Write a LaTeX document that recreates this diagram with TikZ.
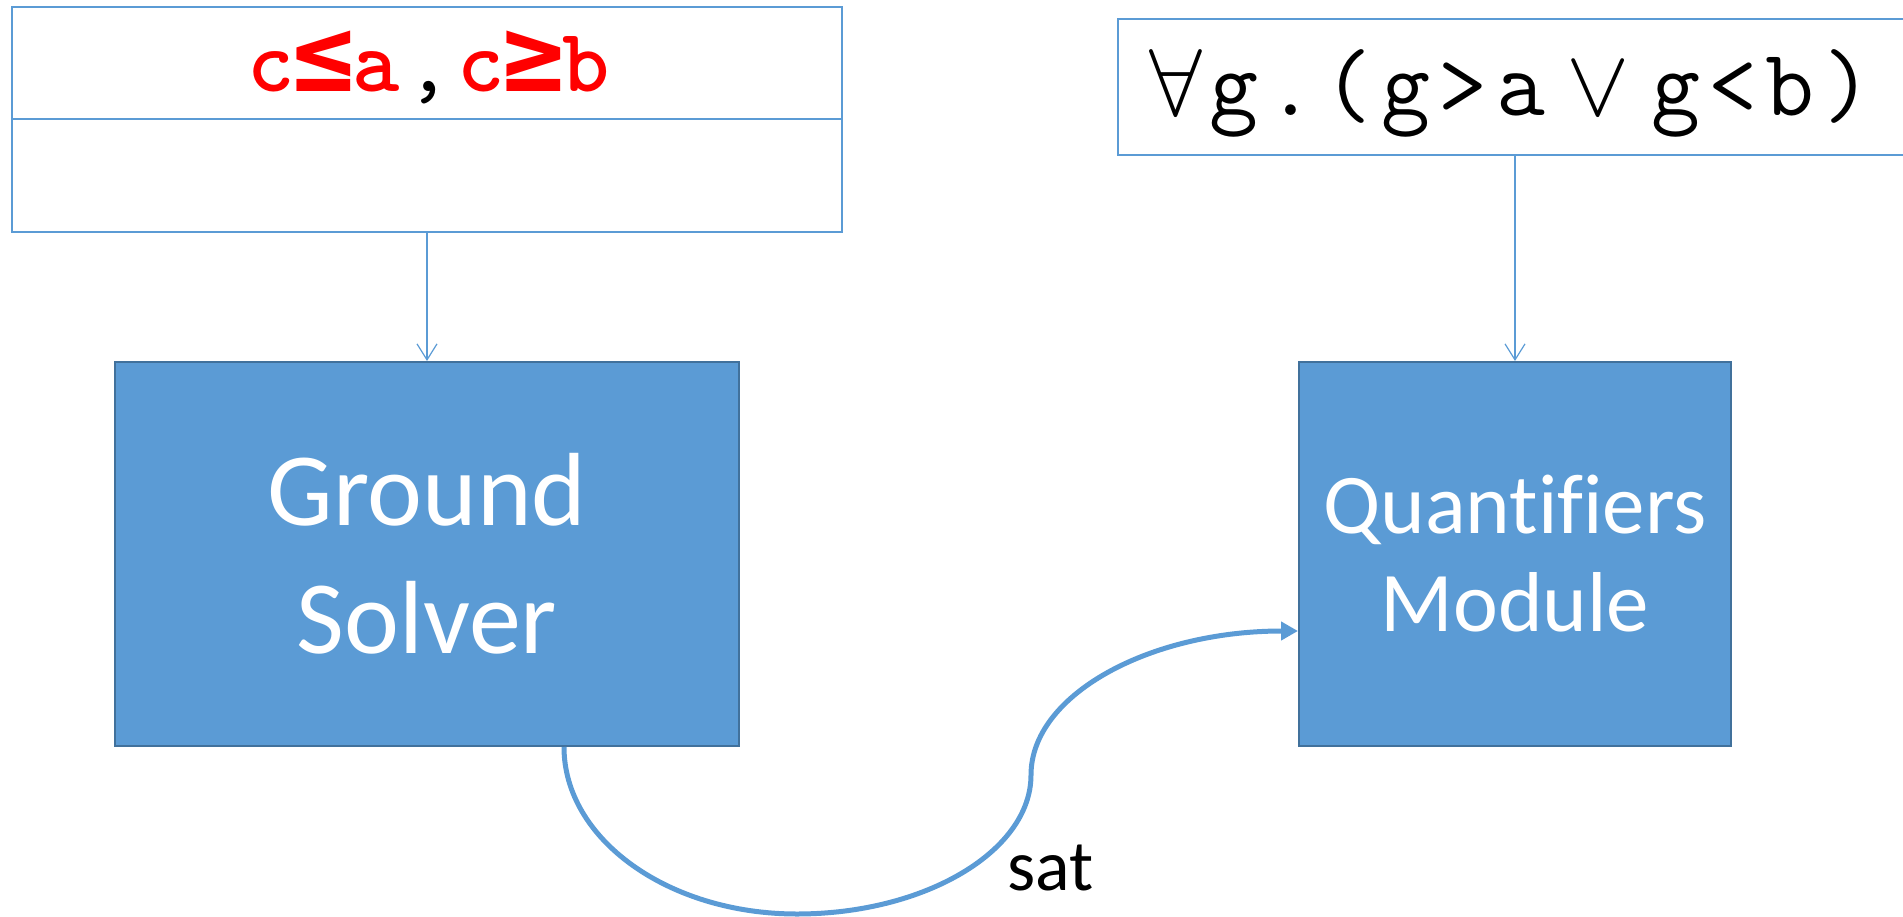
\RequirePackage{fix-cm}
\documentclass[tikz,border=0pt]{standalone}
\usepackage{fontspec}
\setmainfont{Carlito}[Ligatures=CommonOff]
\newfontfamily\relfont{DejaVu Sans Mono}
\usetikzlibrary{arrows.meta,calc}
\definecolor{boxfill}{HTML}{5B9BD5}
\definecolor{boxedge}{HTML}{41719C}
\definecolor{linkblue}{HTML}{5B9BD5}
\definecolor{litred}{HTML}{FF0000}
% fixed-pitch cells for the code-style formulas
\newcommand\litcell[1]{\makebox[52.5pt]{#1}}
\newcommand\fcell[1]{\makebox[57.5pt]{#1}}

\begin{document}
\begin{tikzpicture}[x=1pt,y=-1pt,
  module/.style={draw=boxedge, line width=2pt, fill=boxfill, text=white,
    align=center, inner sep=0pt},
  cell/.style={draw=linkblue, line width=1.5pt, inner sep=0pt},
  feed/.style={draw=linkblue, line width=1.2pt,
    -{Straight Barb[length=16pt,width=20pt,line width=1.2pt]}},
  flow/.style={draw=linkblue, line width=5pt,
    -{Triangle[length=17pt,width=18pt]}}
]
\useasboundingbox (0,0) rectangle (1903,917);

% ground literals: a two-row cell
\node[cell, minimum width=830pt, minimum height=112pt] (lits) at (427,63) {};
\node[cell, minimum width=830pt, minimum height=113pt] (ctx) at (427,175.5) {};
\node[anchor=base, inner sep=0pt, text=litred,
      font=\ttfamily\bfseries\fontsize{90}{100}\selectfont\addfontfeatures{FakeBold=2}] (littext) at (429,92)
  {\litcell{c}\litcell{\relfont\bfseries\fontsize{104}{110}\selectfont ≤}\litcell{a}%
   \litcell{\color{black}\mdseries,}%
   \litcell{c}\litcell{\relfont\bfseries\fontsize{104}{110}\selectfont ≥}\litcell{b}};

% quantified formula, running off the right edge
\node[inner sep=0pt, minimum width=785pt, minimum height=136pt] (qf) at (1510.5,87) {};
\draw[cell] (qf.north east) -- (qf.north west) -- (qf.south west) -- (qf.south east);
\node[anchor=base west, inner sep=0pt,
      font=\ttfamily\fontsize{95}{110}\selectfont] (qftext) at (1147,116)
  {\fcell{$\forall$}\fcell{g}\fcell{.}\fcell{(}%
   \fcell{g}\fcell{>}\fcell{a}%
   \makebox[97pt]{$\vee$}%
   \fcell{g}\fcell{<}\fcell{b}\fcell{)}};

% the two modules
\node[module, minimum width=624pt, minimum height=384pt,
      font=\fontsize{104}{128}\selectfont] (gs) at (427,554) {Ground\\Solver};
\node[module, minimum width=432pt, minimum height=384pt,
      font=\fontsize{85}{98}\selectfont] (qm) at (1515,554) {Quantifiers\\Module};

% inputs
\draw[feed] (ctx.south) -- (gs.north);
\draw[feed] (qf.south -| qm.north) -- (qm.north);

% sat hand-off
\coordinate (satstart) at ([xshift=137pt]gs.south);
\coordinate (satend) at ([yshift=-77pt]qm.west);
\draw[flow] (satstart) .. controls (564,839) and (668,914) .. (797,914)
  .. controls (925,914) and (1031,851) .. (1031,775)
  .. controls (1031,695) and (1149,631) .. (satend);
\node[anchor=base west, inner sep=0pt, font=\fontsize{72}{86}\selectfont] (sat) at (1007,890) {sat};
\end{tikzpicture}
\end{document}
